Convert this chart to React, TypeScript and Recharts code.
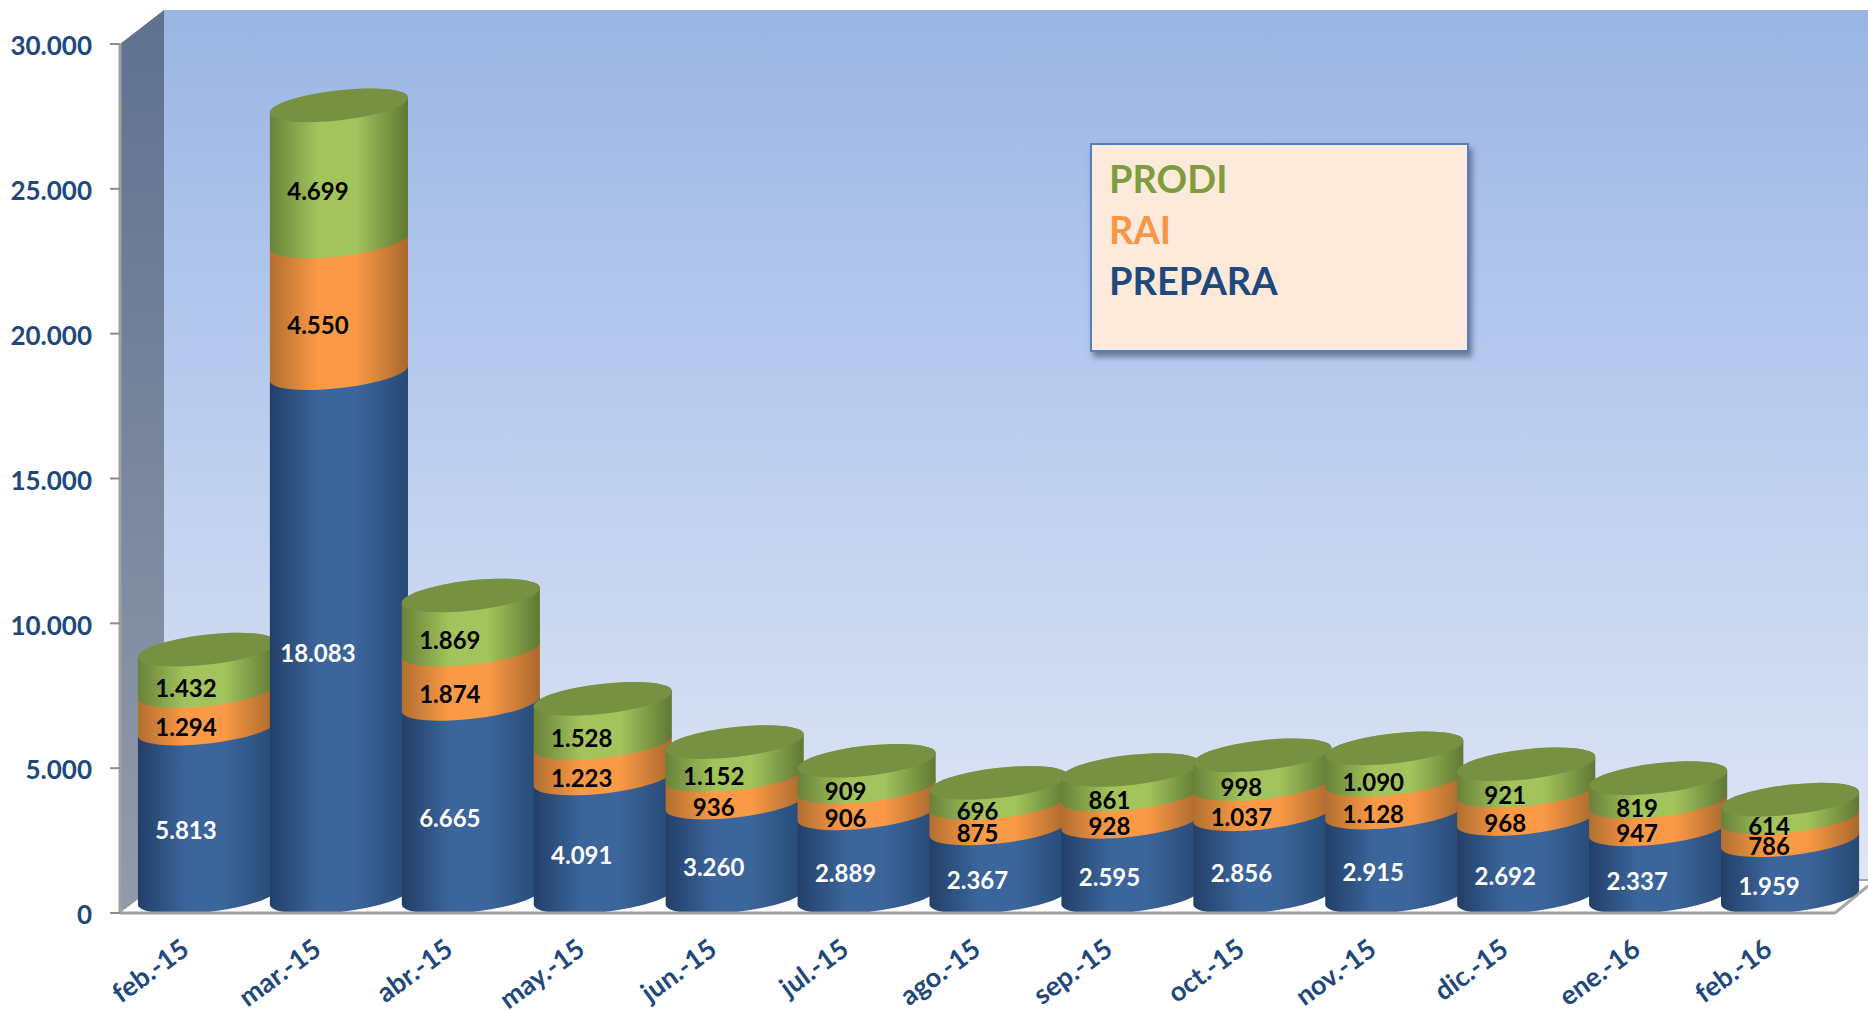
import { BarChart, Bar, XAxis, YAxis, Legend, LabelList } from "recharts";

const months = ["feb.-15", "mar.-15", "abr.-15", "may.-15", "jun.-15", "jul.-15", "ago.-15", "sep.-15", "oct.-15", "nov.-15", "dic.-15", "ene.-16", "feb.-16"];
const prepara = [5813, 18083, 6665, 4091, 3260, 2889, 2367, 2595, 2856, 2915, 2692, 2337, 1959];
const rai = [1294, 4550, 1874, 1223, 936, 906, 875, 928, 1037, 1128, 968, 947, 786];
const prodi = [1432, 4699, 1869, 1528, 1152, 909, 696, 861, 998, 1090, 921, 819, 614];
const yTicks = [0, 5000, 10000, 15000, 20000, 25000, 30000];

const seriesNames = ["PREPARA", "RAI", "PRODI"];
const seriesValues = [prepara, rai, prodi];
const legendOrder = ["PRODI", "RAI", "PREPARA"];
const legendColors: Record<string, string> = { PRODI: "#7F9C3F", RAI: "#F79646", PREPARA: "#1F497D" };
const gradientIds: Record<string, string> = { PREPARA: "cylBlue", RAI: "cylOrange", PRODI: "cylGreen" };
const labelColors: Record<string, string> = { PREPARA: "#ffffff", RAI: "#000000", PRODI: "#000000" };

const FONT = "Lato, Carlito, sans-serif";
const AXIS_BLUE = "#1F497D";

// every month gets its own set of keys so each cylinder is painted whole before the next one
const tableData = months.map((month, i) => {
  const row: Record<string, string | number> = { month };
  seriesNames.forEach((name, s) => {
    row[`${name}_${i}`] = seriesValues[s][i];
  });
  return row;
});

const fmt = (v: number) => v.toLocaleString("de-DE");

// depth offset of the cylinders inside the 3d box
const DEPTH_X = 21;
const DEPTH_Y = 16;
const TILT = 6.5;
const MAJOR = 69.5;
const MINOR = 15;

function Cylinder(props: any) {
  const { x, y, width, height, value, seriesName } = props;
  if (!value) return null;
  const a = MAJOR;
  const rad = (TILT * Math.PI) / 180;
  const dx = a * Math.cos(rad);
  const dy = a * Math.sin(rad);
  const cx = x + width / 2 + DEPTH_X;
  const top = y - DEPTH_Y;
  const bottom = y + height - DEPTH_Y;
  const d =
    `M${cx - dx} ${bottom + dy} A${a} ${MINOR} ${-TILT} 0 0 ${cx + dx} ${bottom - dy} ` +
    `L${cx + dx} ${top - dy} A${a} ${MINOR} ${-TILT} 0 0 ${cx - dx} ${top + dy} Z`;
  return (
    <g>
      <path d={d} fill={`url(#${gradientIds[seriesName]})`} />
      {seriesName === "PRODI" && (
        <ellipse cx={cx} cy={top} rx={a} ry={MINOR} fill="#779042" transform={`rotate(${-TILT} ${cx} ${top})`} />
      )}
    </g>
  );
}

function MonthTick(props: any) {
  const { x, y, payload } = props;
  return (
    <text
      x={x + 5}
      y={y + 32}
      textAnchor="end"
      transform={`rotate(-36 ${x + 5} ${y + 32})`}
      fill={AXIS_BLUE}
      fontFamily={FONT}
      fontWeight={700}
      fontSize={27}
    >
      {payload.value}
    </text>
  );
}

function LegendBox() {
  return (
    <div
      style={{
        boxSizing: "border-box",
        width: 379,
        height: 209,
        background: "#FDEADA",
        border: "2px solid #4F81BD",
        boxShadow: "3px 5px 6px rgba(40,50,80,0.55)",
        padding: "8px 0 0 17px",
        fontFamily: FONT,
        fontWeight: 700,
        fontSize: 38,
        lineHeight: "51px",
      }}
    >
      {legendOrder.map((name) => (
        <div key={name} style={{ color: legendColors[name] }}>
          {name}
        </div>
      ))}
    </div>
  );
}

function gradient(id: string, edgeL: string, mid: string, edgeR: string) {
  return (
    <linearGradient id={id} x1="0" y1="0" x2="1" y2="0">
      <stop offset="0" stopColor={edgeL} />
      <stop offset="0.35" stopColor={mid} />
      <stop offset="0.62" stopColor={mid} />
      <stop offset="1" stopColor={edgeR} />
    </linearGradient>
  );
}

export default function App() {
  return (
    <div style={{ position: "absolute", left: 0, top: 0, width: 1868, height: 1010, overflow: "hidden", background: "#fff" }}>
      <BarChart
        width={1868}
        height={1010}
        data={tableData}
        margin={{ top: 44, right: 33, bottom: 0, left: 0 }}
        barCategoryGap={0}
        barGap={0}
      >
        <defs>
          <linearGradient id="backWall" x1="0" y1="0" x2="0" y2="1">
            <stop offset="0" stopColor="#9AB5E3" />
            <stop offset="0.33" stopColor="#B1C6EC" />
            <stop offset="1" stopColor="#DFE6F5" />
          </linearGradient>
          <linearGradient id="sideWall" x1="0" y1="0" x2="0" y2="1">
            <stop offset="0" stopColor="#5F7190" />
            <stop offset="1" stopColor="#929BAA" />
          </linearGradient>
          {gradient("cylBlue", "#233F68", "#3B659B", "#274A75")}
          {gradient("cylOrange", "#B26F30", "#FB9A46", "#A9682D")}
          {gradient("cylGreen", "#688239", "#A3C45C", "#5F7833")}
        </defs>

        <polygon points="120,44 164,10 164,880 120,913" fill="url(#sideWall)" />
        <rect x={164} y={10} width={1704} height={870} fill="url(#backWall)" />
        <polygon points="120,913 164,880 1868,880 1835,913" fill="#ffffff" />
        <polyline points="1835,913 1868,886" fill="none" stroke="#a6a6a6" strokeWidth={3} />
        <line x1={1856} y1={880} x2={1868} y2={880} stroke="#a6a6a6" strokeWidth={2} />

        <XAxis
          dataKey="month"
          interval={0}
          height={97}
          tickLine={false}
          axisLine={{ stroke: "#a0a0a0", strokeWidth: 3 }}
          tick={<MonthTick />}
        />
        <YAxis
          width={120}
          domain={[0, 30000]}
          ticks={yTicks}
          tickSize={10}
          tickMargin={18}
          tickFormatter={fmt}
          axisLine={{ stroke: "#a0a0a0", strokeWidth: 3 }}
          tickLine={{ stroke: "#8c8c8c", strokeWidth: 2 }}
          tick={{ fill: AXIS_BLUE, fontFamily: FONT, fontWeight: 700, fontSize: 26, dy: 2 }}
        />

        {months.flatMap((_, i) =>
          seriesNames.map((name) => (
            <Bar
              key={`${name}_${i}`}
              dataKey={`${name}_${i}`}
              stackId="a"
              isAnimationActive={false}
              legendType="none"
              shape={(p: any) => <Cylinder {...p} value={p[`${name}_${i}`]} seriesName={name} />}
            >
              <LabelList
                dataKey={`${name}_${i}`}
                position="center"
                dy={2}
                formatter={(v: any) => (v == null ? "" : fmt(Number(v)))}
                fill={labelColors[name]}
                fontFamily={FONT}
                fontWeight={700}
                fontSize={24}
              />
            </Bar>
          ))
        )}

        <Legend
          layout="vertical"
          align="center"
          verticalAlign="middle"
          content={<LegendBox />}
          wrapperStyle={{ position: "absolute", left: 1090, top: 143, width: 379, height: 209 }}
        />
      </BarChart>
    </div>
  );
}
